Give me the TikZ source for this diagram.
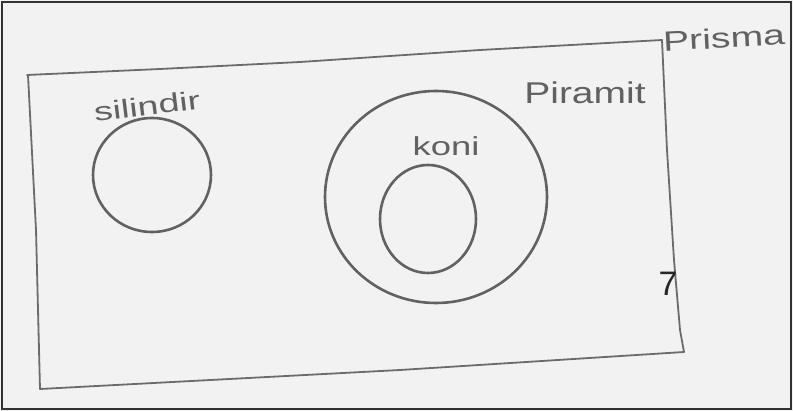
\documentclass[tikz,border=0pt]{standalone}
\usepackage{fontspec}
\setmainfont{Liberation Sans}
\begin{document}
\begin{tikzpicture}[x=1pt,y=-1pt,
  pencil/.style={draw=black!62, line width=2.6pt, line join=round},
  thinpencil/.style={draw=black!58, line width=1.8pt, line join=round},
  hand/.style={text=black!62, inner sep=0pt}]
\fill[black!5] (0,0) rectangle (793,411);
\draw[black!80, line width=1.6pt] (2,2) rectangle (791,409);
\useasboundingbox (0,0) rectangle (793,411);
% outer rectangle (Prisma)
\draw[thinpencil] (27,75) -- (160,69) -- (300,62) -- (480,50) -- (662,40) -- (667,150) -- (674,260) -- (680,330) -- (684,352) -- (400,370) -- (40,389) -- (36,230) -- (28,75) -- cycle;
% circles
\draw[pencil] (152,175) ellipse [x radius=59, y radius=57];
\draw[pencil] (436,197) ellipse [x radius=111, y radius=106];
\draw[pencil] (428,219) ellipse [x radius=48, y radius=54];
% labels
\node[hand, rotate=3, xscale=1.4, font=\fontsize{28}{30}\selectfont] (prisma) at (724,38) {Prisma};
\node[hand, rotate=7, xscale=1.45, font=\fontsize{26}{28}\selectfont] (silindir) at (147,106) {silindir};
\node[hand, xscale=1.3, font=\fontsize{30}{32}\selectfont] (piramit) at (585,93) {Piramit};
\node[hand, xscale=1.4, font=\fontsize{26}{28}\selectfont] (koni) at (446,146) {koni};
\node[text=black!85, font=\fontsize{34}{36}\selectfont, inner sep=0pt] (seven) at (668,284) {7};
\end{tikzpicture}
\end{document}
